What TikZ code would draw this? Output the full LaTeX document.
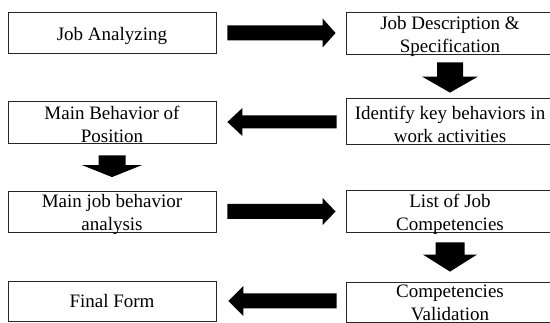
\documentclass[tikz,border=0pt]{standalone}
\usepackage{fontspec}
\setmainfont{Liberation Serif}
\usetikzlibrary{calc}
\newcommand\blockarrow[5]{%
  \fill[arrowfill] let \p1=(#1), \p2=(#2),
    \n1={veclen(\x2-\x1,\y2-\y1)},
    \n2={(\x2-\x1)/\n1}, \n3={(\y2-\y1)/\n1} in
    ({\x1-(\n3)*#3pt},{\y1+(\n2)*#3pt})
    -- ({\x2-(\n2)*#5pt-(\n3)*#3pt},{\y2-(\n3)*#5pt+(\n2)*#3pt})
    -- ({\x2-(\n2)*#5pt-(\n3)*#4pt},{\y2-(\n3)*#5pt+(\n2)*#4pt})
    -- (\x2,\y2)
    -- ({\x2-(\n2)*#5pt+(\n3)*#4pt},{\y2-(\n3)*#5pt-(\n2)*#4pt})
    -- ({\x2-(\n2)*#5pt+(\n3)*#3pt},{\y2-(\n3)*#5pt-(\n2)*#3pt})
    -- ({\x1+(\n3)*#3pt},{\y1-(\n2)*#3pt})
    -- cycle;}
\begin{document}
\begin{tikzpicture}[x=1pt,y=-1pt,
  boxstyle/.style={draw=black!85, line width=0.8pt, inner sep=0pt},
  leftbox/.style={boxstyle, minimum width=208pt},
  rightbox/.style={boxstyle, minimum width=208pt},
  txt/.style={font=\fontsize{19}{23}\selectfont, align=center, inner sep=0pt, anchor=base},
  arrowfill/.style={fill=black}]
\useasboundingbox (0,0) rectangle (550,323);
% boxes
\node[leftbox, minimum height=41pt] (b1) at (112,33) {};
\node[rightbox, minimum height=42pt] (b2) at (450,33) {};
\node[rightbox, minimum height=46pt] (b3) at (450,121) {};
\node[leftbox, minimum height=42pt] (b4) at (112,122) {};
\node[leftbox, minimum height=41pt] (b5) at (112,211.5) {};
\node[rightbox, minimum height=42pt] (b6) at (450,211) {};
\node[rightbox, minimum height=40pt] (b7) at (450,302) {};
\node[leftbox, minimum height=40pt] (b8) at (112,301) {};
% texts (multi-line nodes: base = baseline of the last line)
\node[txt] (t1) at ($(b1.center)+(0,7.5)$) {Job Analyzing};
\node[txt] (t2) at ($(b2.south)+(0,-2)$) {Job Description \&\\Specification};
\node[txt] (t3) at ($(b3.south)+(0,-2)$) {Identify key behaviors in\\work activities};
\node[txt] (t4) at ($(b4.south)+(0,-1)$) {Main Behavior of\\Position};
\node[txt] (t5) at ($(b5.south)+(0,-2)$) {Main job behavior\\analysis};
\node[txt] (t6) at ($(b6.south)+(0,-2)$) {List of Job\\Competencies};
\node[txt] (t7) at ($(b7.south)+(0,-2)$) {Competencies\\Validation};
\node[txt] (t8) at ($(b8.center)+(0,7)$) {Final Form};
% arrows
\blockarrow{$(b1.east)+(11,0)$}{$(b2.west |- b1.east)+(-10,0)$}{7.5}{14.5}{13}
\blockarrow{$(b2.south)+(0,8)$}{$(b3.north)+(0,-5)$}{13}{28}{16}
\blockarrow{$(b3.west |- b4.east)+(-9,0)$}{$(b4.east)+(11,0)$}{6.5}{14}{15}
\blockarrow{$(b4.south)+(0,12)$}{$(b5.north)+(0,-13.5)$}{13.5}{30}{12}
\blockarrow{$(b5.east)+(11,0)$}{$(b6.west |- b5.east)+(-10,0)$}{7.5}{13.5}{13}
\blockarrow{$(b6.south)+(0,10)$}{$(b7.north)+(0,-10)$}{14.5}{27}{17}
\blockarrow{$(b7.west |- b8.east)+(-9,0)$}{$(b8.east)+(12,0)$}{7.5}{15}{15}
\end{tikzpicture}
\end{document}
